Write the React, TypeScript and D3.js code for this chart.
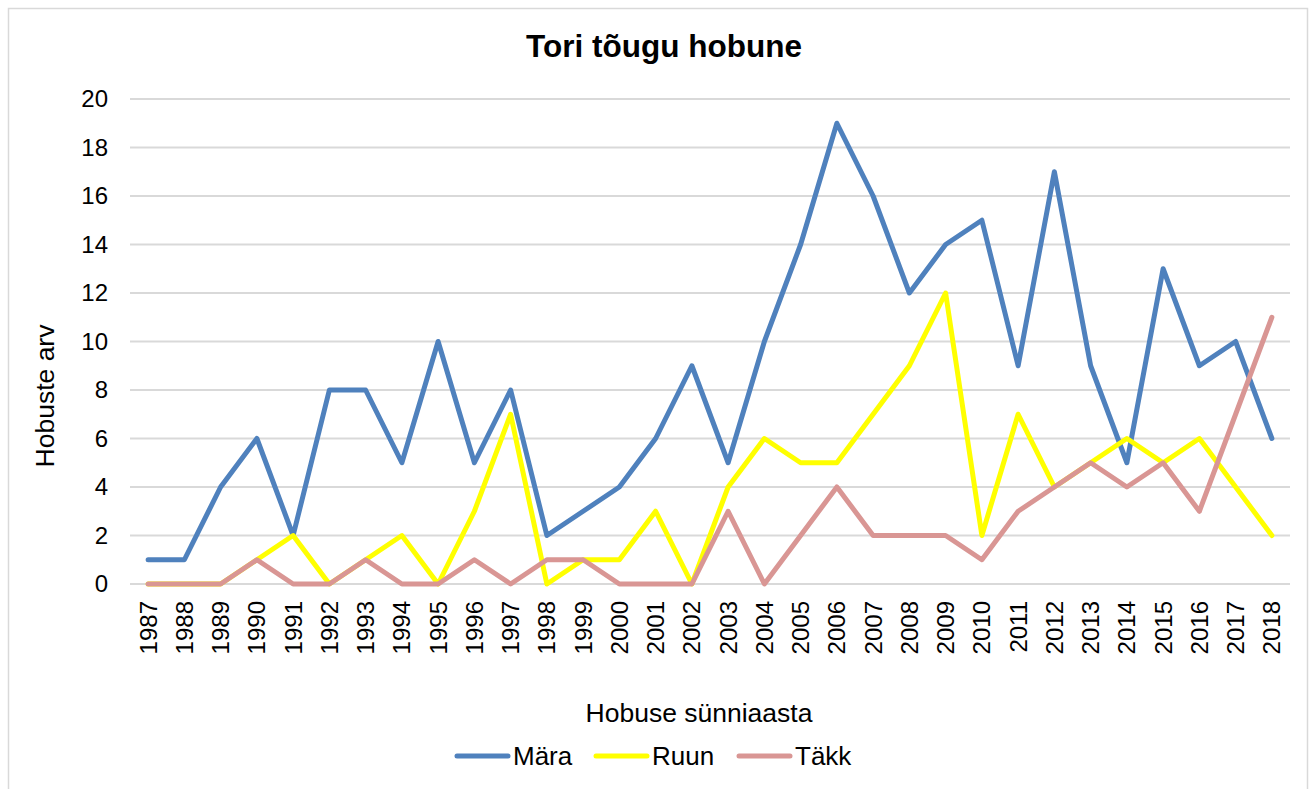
import React from "react";
import * as d3 from "d3";

const years = ["1987","1988","1989","1990","1991","1992","1993","1994","1995","1996","1997","1998","1999","2000","2001","2002","2003","2004","2005","2006","2007","2008","2009","2010","2011","2012","2013","2014","2015","2016","2017","2018"];
const mara = [1,1,4,6,2,8,8,5,10,5,8,2,3,4,6,9,5,10,14,19,16,12,14,15,9,17,9,5,13,9,10,6];
const ruun = [0,0,0,1,2,0,1,2,0,3,7,0,1,1,3,0,4,6,5,5,7,9,12,2,7,4,5,6,5,6,4,2];
const takk = [0,0,0,1,0,0,1,0,0,1,0,1,1,0,0,0,3,0,2,4,2,2,2,1,3,4,5,4,5,3,7,11];
const yTicks = [0,2,4,6,8,10,12,14,16,18,20];

const seriesNames = ["Mära", "Ruun", "Täkk"];
const seriesColors = ["#4F81BD", "#FFFF00", "#D99694"];

export default function App() {
  const W = 1309, H = 789;
  const left = 130, right = 1290, top = 99, bottom = 584;
  const x = d3.scaleBand<string>().domain(years).range([left, right]);
  const y = d3.scaleLinear().domain([0, 20]).range([bottom, top]);
  const line = d3.line<number>()
    .x((_, i) => (x(years[i]) as number) + x.bandwidth() / 2)
    .y((d) => y(d));
  const data = [mara, ruun, takk];
  const font = "Liberation Sans, Arial, Helvetica, sans-serif";
  const legendX = [457, 596, 739];

  return (
    <svg width={W} height={H} style={{ position: "absolute", left: 0, top: 0, background: "#fff" }} fontFamily={font}>
      <rect x={8.5} y={8.5} width={1299} height={800} fill="#fff" stroke="#d9d9d9" strokeWidth={1.5} />
      <text x={664} y={57} textAnchor="middle" fontSize={31.5} fontWeight="bold" fill="#000">Tori tõugu hobune</text>
      {yTicks.map((t) => (
        <g key={t}>
          <line x1={left} x2={right} y1={y(t)} y2={y(t)} stroke="#d9d9d9" strokeWidth={2} />
          <text x={108} y={y(t)} dy="0.35em" textAnchor="end" fontSize={24} fill="#000">{t}</text>
        </g>
      ))}
      {years.map((yr) => {
        const cx = (x(yr) as number) + x.bandwidth() / 2;
        return (
          <text key={yr} transform={`translate(${cx},${601}) rotate(-90)`} dy="0.35em" textAnchor="end" fontSize={24} fill="#000">{yr}</text>
        );
      })}
      <text transform="translate(45,396) rotate(-90)" dy="0.35em" textAnchor="middle" fontSize={26.5} fill="#000">Hobuste arv</text>
      <text x={699} y={722} textAnchor="middle" fontSize={26.5} fill="#000">Hobuse sünniaasta</text>
      {data.map((d, i) => (
        <path key={i} d={line(d) as string} fill="none" stroke={seriesColors[i]} strokeWidth={5} strokeLinejoin="round" strokeLinecap="round" />
      ))}
      {seriesNames.map((n, i) => (
        <g key={n}>
          <line x1={legendX[i]} x2={legendX[i] + 51} y1={756} y2={756} stroke={seriesColors[i]} strokeWidth={5} strokeLinecap="round" />
          <text x={legendX[i] + 56} y={765} fontSize={26} fill="#000">{n}</text>
        </g>
      ))}
    </svg>
  );
}
